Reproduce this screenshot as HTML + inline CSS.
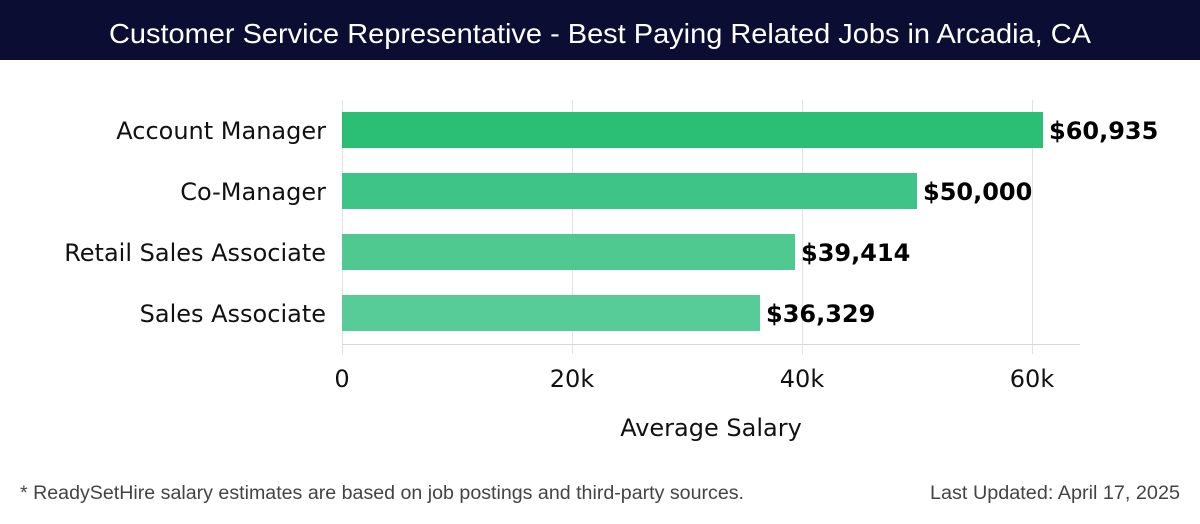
<!DOCTYPE html>
<html><head><meta charset="utf-8"><style>
body{margin:0;width:1200px;height:520px;background:#fff;overflow:hidden;font-family:"DejaVu Sans","Liberation Sans",sans-serif}
</style></head><body>
<svg width="1200" height="520" xmlns="http://www.w3.org/2000/svg">
<rect x="0" y="0" width="1200" height="60" fill="#0c0d33"/>
<text x="109" y="43" fill="#fff" font-size="28" font-family="Liberation Sans, sans-serif" textLength="982" lengthAdjust="spacingAndGlyphs">Customer Service Representative - Best Paying Related Jobs in Arcadia, CA</text>
<g stroke="#e2e2e2" stroke-width="1">
<line x1="342.5" y1="100" x2="342.5" y2="354"/>
<line x1="572.5" y1="100" x2="572.5" y2="354"/>
<line x1="802.5" y1="100" x2="802.5" y2="354"/>
<line x1="1032.5" y1="100" x2="1032.5" y2="354"/>
</g>
<line x1="342" y1="344.5" x2="1080" y2="344.5" stroke="#d6d6d6"/>
<rect x="342" y="112" width="701" height="36" fill="#2bbf76"/>
<rect x="342" y="173" width="575" height="36" fill="#3fc487"/>
<rect x="342" y="234" width="453" height="36" fill="#50c990"/>
<rect x="342" y="295" width="418" height="36" fill="#58cc98"/>
<g font-size="24" fill="#111" text-anchor="end">
<text x="326" y="139">Account Manager</text>
<text x="326" y="200">Co-Manager</text>
<text x="326" y="261">Retail Sales Associate</text>
<text x="326" y="322">Sales Associate</text>
</g>
<g font-size="24" font-weight="bold" fill="#000">
<text x="1049" y="139">$60,935</text>
<text x="923" y="200">$50,000</text>
<text x="801" y="261">$39,414</text>
<text x="766" y="322">$36,329</text>
</g>
<g font-size="24" fill="#111" text-anchor="middle">
<text x="342" y="387">0</text>
<text x="572" y="387">20k</text>
<text x="802" y="387">40k</text>
<text x="1032" y="387">60k</text>
<text x="711" y="436">Average Salary</text>
</g>
<text x="20" y="499" font-size="19" fill="#444" font-family="Liberation Sans, sans-serif" textLength="724" lengthAdjust="spacingAndGlyphs">* ReadySetHire salary estimates are based on job postings and third-party sources.</text>
<text x="930" y="499" font-size="19" fill="#444" font-family="Liberation Sans, sans-serif" textLength="250" lengthAdjust="spacingAndGlyphs">Last Updated: April 17, 2025</text>
</svg>
</body></html>
